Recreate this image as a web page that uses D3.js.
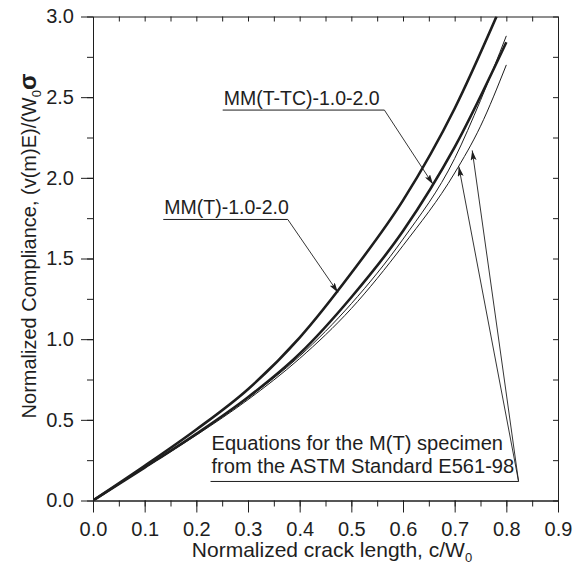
<!DOCTYPE html>
<html>
<head>
<meta charset="utf-8">
<script src="https://cdn.jsdelivr.net/npm/d3@7"></script>
<style>
  body { margin: 0; background: #fff; }
  text { font-family: Arial, "Liberation Sans", sans-serif; fill: #1e1e1e; }
</style>
</head>
<body>
<div id="chart"></div>
<script>
// curves: crack length c/W0 -> normalized compliance
const cMMT = [0, 0.1, 0.2, 0.3, 0.4, 0.5, 0.6, 0.7, 0.781]
const vMMT = [0, 0.215, 0.44, 0.69, 1.01, 1.41, 1.86, 2.43, 3.0]
const cMMTTC = [0, 0.1, 0.2, 0.3, 0.4, 0.5, 0.6, 0.7, 0.8]
const vMMTTC = [0, 0.204, 0.413, 0.64, 0.91, 1.26, 1.67, 2.19, 2.84]
const cASTM = [0, 0.1, 0.2, 0.3, 0.4, 0.5, 0.6, 0.7, 0.75, 0.8]
const vASTM1 = [0, 0.203, 0.41, 0.635, 0.895, 1.22, 1.62, 2.12, 2.48, 2.88]
const vASTM2 = [0, 0.202, 0.405, 0.625, 0.88, 1.19, 1.58, 2.03, 2.32, 2.70]

const xTicks = [0, 0.1, 0.2, 0.3, 0.4, 0.5, 0.6, 0.7, 0.8, 0.9]
const yTicks = [0, 0.5, 1.0, 1.5, 2.0, 2.5, 3.0]

// annotation anchors, in data units
const labelText = ['MM(T-TC)-1.0-2.0', 'MM(T)-1.0-2.0']
const labelStart = [[0.251, 2.42], [0.136, 1.742]]
const labelEnd = [0.564, 0.377]
const labelTip = [[0.658, 1.96], [0.474, 1.29]]
const astmLines = ['Equations for the M(T) specimen', 'from the ASTM Standard E561-98']
const astmStart = [0.2275, 0.313, 0.17, 0.118]
const astmEnd = 0.8237
const astmTips = [[0.708, 2.07], [0.734, 2.17]]

const width = 585, height = 567
const mLeft = 93, mRight = 558, mTop = 16.5, mBottom = 500.5

const x = d3.scaleLinear().domain([0, 0.9]).range([mLeft, mRight])
const y = d3.scaleLinear().domain([0, 3]).range([mBottom, mTop])

const svg = d3.select('#chart').append('svg')
  .attr('width', width)
  .attr('height', height)

const defs = svg.append('defs')
defs.append('clipPath').attr('id', 'plot')
  .append('rect')
  .attr('x', mLeft).attr('y', mTop)
  .attr('width', mRight - mLeft).attr('height', mBottom - mTop)

const marker = defs.append('marker')
  .attr('id', 'head')
  .attr('viewBox', '0 0 10 6')
  .attr('refX', 10).attr('refY', 3)
  .attr('markerWidth', 10).attr('markerHeight', 6)
  .attr('markerUnits', 'userSpaceOnUse')
  .attr('orient', 'auto')
marker.append('path').attr('d', 'M0,0 L10,3 L0,6 L2,3 z').attr('fill', '#1e1e1e')

// axes
const fmt = d3.format('.1f')
const minorX = d3.range(0, 0.901, 0.05)
const minorY = d3.range(0, 3.001, 0.25)

svg.append('g')
  .attr('transform', `translate(0,${mBottom})`)
  .call(d3.axisBottom(x).tickValues(minorX).tickSize(6).tickFormat('').tickSizeOuter(0))
svg.append('g')
  .attr('transform', `translate(0,${mBottom})`)
  .call(d3.axisBottom(x).tickValues(xTicks).tickSize(12).tickPadding(9).tickFormat(fmt).tickSizeOuter(0))
svg.append('g')
  .attr('transform', `translate(${mLeft},0)`)
  .call(d3.axisLeft(y).tickValues(minorY).tickSize(6).tickFormat('').tickSizeOuter(0))
svg.append('g')
  .attr('transform', `translate(${mLeft},0)`)
  .call(d3.axisLeft(y).tickValues(yTicks).tickSize(12).tickPadding(7).tickFormat(fmt).tickSizeOuter(0))
svg.append('g')
  .attr('transform', `translate(0,${mTop})`)
  .call(d3.axisTop(x).tickValues(minorX).tickSize(-5).tickFormat('').tickSizeOuter(0))
svg.append('g')
  .attr('transform', `translate(${mRight},0)`)
  .call(d3.axisRight(y).tickValues(minorY).tickSize(-5).tickFormat('').tickSizeOuter(0))

svg.selectAll('.domain, .tick line').attr('stroke', '#1e1e1e').attr('stroke-width', 1)
svg.selectAll('.tick text').style('font-size', '20px').attr('fill', '#1e1e1e')

// axis titles
const xt = svg.append('text')
  .attr('x', 332).attr('y', 557)
  .attr('text-anchor', 'middle')
  .style('font-size', '21px')
xt.append('tspan').text('Normalized crack length, c/W')
xt.append('tspan').text('0').style('font-size', '13px').attr('dy', 5)

const yt = svg.append('text')
  .attr('transform', 'translate(36,246) rotate(-90)')
  .attr('text-anchor', 'middle')
  .style('font-size', '20px')
yt.append('tspan').text('Normalized Compliance, (v(m)E)/(W')
yt.append('tspan').text('0').style('font-size', '13px').attr('dy', 5)
yt.append('tspan').text('σ').style('font-size', '24px').style('font-weight', 'bold').attr('dy', -5)

// curves
const line = d3.line()
  .x(d => x(d[0]))
  .y(d => y(d[1]))
  .curve(d3.curveMonotoneX)

const series = [
  {c: cASTM, v: vASTM1, w: 1},
  {c: cASTM, v: vASTM2, w: 1},
  {c: cMMTTC, v: vMMTTC, w: 2.6},
  {c: cMMT, v: vMMT, w: 2.6}
]
const curves = svg.append('g').attr('clip-path', 'url(#plot)')
series.forEach(s => {
  curves.append('path')
    .datum(d3.zip(s.c, s.v))
    .attr('d', line)
    .attr('fill', 'none')
    .attr('stroke', '#1e1e1e')
    .attr('stroke-width', s.w)
})

// labels with leaders
const ann = svg.append('g')
labelText.forEach((t, i) => {
  const [c0, v0] = labelStart[i]
  ann.append('text')
    .attr('x', x(c0) + 1).attr('y', y(v0) - 5)
    .style('font-size', '19.5px')
    .text(t)
  ann.append('path')
    .attr('d', d3.line()([[x(c0), y(v0)], [x(labelEnd[i]), y(v0)]]))
    .attr('stroke', '#1e1e1e').attr('stroke-width', 1)
  ann.append('path')
    .attr('d', d3.line()([[x(labelEnd[i]), y(v0)], [x(labelTip[i][0]), y(labelTip[i][1])]]))
    .attr('stroke', '#1e1e1e').attr('stroke-width', 0.9)
    .attr('marker-end', 'url(#head)')
})

astmLines.forEach((t, i) => {
  ann.append('text')
    .attr('x', x(astmStart[0]) + 1).attr('y', y(astmStart[i + 1]))
    .style('font-size', '20.1px')
    .text(t)
})
ann.append('path')
  .attr('d', d3.line()([[x(astmStart[0]), y(astmStart[3])], [x(astmEnd), y(astmStart[3])]]))
  .attr('stroke', '#1e1e1e').attr('stroke-width', 1)
astmTips.forEach(tip => {
  ann.append('path')
    .attr('d', d3.line()([[x(astmEnd), y(astmStart[3])], [x(tip[0]), y(tip[1])]]))
    .attr('stroke', '#1e1e1e').attr('stroke-width', 0.9)
    .attr('marker-end', 'url(#head)')
})
</script>
</body>
</html>
